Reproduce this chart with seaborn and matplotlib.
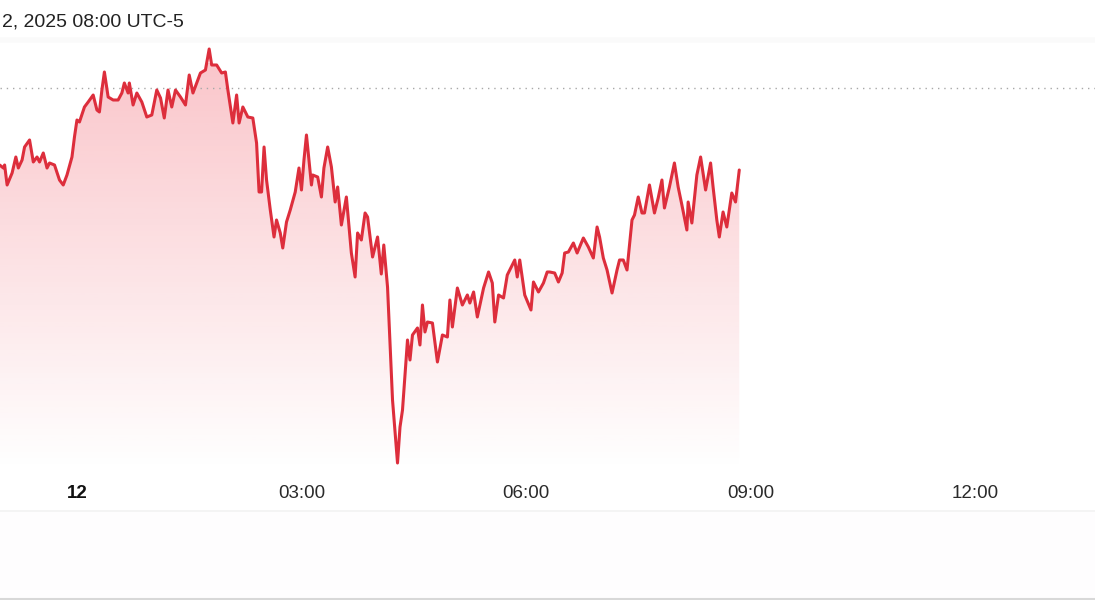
import numpy as np
import pandas as pd
import matplotlib.pyplot as plt
import seaborn as sns
from matplotlib.lines import Line2D

# minutes from midnight (local, UTC-5) and price
minutes = [-62, -59, -58, -56, -52, -49, -47, -44, -42, -38, -35, -32, -30, -27, -24, -22,
           -18, -14, -11, -8, -4, -2, 0, 2, 6, 9, 13, 16, 18, 20, 22, 25, 29, 33, 36, 38,
           41, 42, 45, 48, 52, 56, 60, 64, 67, 70, 73, 76, 79, 83, 87, 90,
           93, 99, 103, 106, 108, 112, 116, 119, 121, 125, 128, 130, 133, 137, 141, 144,
           146, 148, 150, 152, 155, 158, 160, 163, 165, 168, 171, 175, 178, 180, 182, 184,
           188, 189, 193, 196, 198, 201, 204, 207, 209, 212, 216, 220, 223, 225, 228, 231,
           233, 237, 241, 244, 246, 249,
           253, 257, 259, 261, 265, 267, 269, 273, 275, 277, 279, 281, 285, 289, 293, 297,
           299, 301, 305, 309, 313, 315, 318, 321, 326, 330, 333, 335, 338, 342, 345, 349,
           351, 353, 355, 359, 364, 366, 370, 374, 377,
           379, 383, 386, 389, 391, 394, 398, 401, 406, 410, 414, 417, 419, 422, 425, 429,
           433, 435, 438, 441, 445, 447, 450, 453, 455, 459, 463, 466, 469, 471, 475, 479,
           482, 485, 489, 490, 493, 497, 500, 504, 508, 510, 513, 515, 518, 521, 525, 528, 531]
price = [99.23, 99.20, 99.23, 99.03, 99.15, 99.31, 99.20, 99.28, 99.41, 99.48, 99.26, 99.31,
         99.26, 99.35, 99.20, 99.25, 99.23, 99.08, 99.03, 99.13, 99.31, 99.51, 99.68, 99.66,
         99.81, 99.86, 99.93, 99.78, 99.76, 99.98, 100.16, 99.91, 99.88, 99.88, 99.95, 100.05,
         99.95, 100.05, 99.83, 99.95, 99.86, 99.71, 99.73, 99.98, 99.90, 99.70, 99.98, 99.81,
         99.98, 99.91, 99.83, 100.13,
         99.95, 100.15, 100.18, 100.39, 100.23, 100.23, 100.15, 100.16, 99.98, 99.65, 99.93,
         99.65, 99.81, 99.71, 99.70, 99.45, 98.96, 98.96, 99.41, 99.08, 98.78, 98.51, 98.68,
         98.55, 98.40, 98.66, 98.78, 98.96, 99.20, 98.98, 99.28, 99.53, 99.03, 99.13, 99.11,
         98.91, 99.20, 99.41, 99.21, 98.86, 99.01, 98.63, 98.91, 98.35, 98.11, 98.55, 98.48,
         98.75, 98.71, 98.31, 98.51, 98.14, 98.43, 98.01,
         96.88, 96.25, 96.61, 96.78, 97.48, 97.28, 97.53, 97.60, 97.43, 97.83, 97.56, 97.66,
         97.65, 97.26, 97.53, 97.51, 97.88, 97.61, 98.00, 97.83, 97.93, 97.85, 97.96, 97.71,
         98.00, 98.16, 98.05, 97.66, 97.93, 97.90, 98.13, 98.23, 98.28, 98.11, 98.28, 97.93,
         97.78, 98.06, 97.96, 98.05, 98.16,
         98.16, 98.15, 98.06, 98.15, 98.35, 98.36, 98.45, 98.35, 98.50, 98.41, 98.30, 98.61,
         98.51, 98.30, 98.18, 97.95, 98.18, 98.28, 98.28, 98.18, 98.68, 98.73, 98.91, 98.75,
         98.75, 99.03, 98.75, 98.90, 99.08, 98.80, 99.01, 99.25, 99.01, 98.83, 98.58, 98.86,
         98.65, 99.13, 99.31, 98.98, 99.25, 99.01, 98.68, 98.51, 98.76, 98.61, 98.95, 98.86,
         99.18]
prev_close = 100.00

tick_pos = [0, 180, 360, 540, 720]
tick_labels = ["12", "03:00", "06:00", "09:00", "12:00"]
header = "2, 2025 08:00 UTC-5"

df = pd.DataFrame({"minutes": minutes, "price": price})

sns.set_theme(style="white")
plt.rcParams['font.family'] = ['Liberation Sans', 'DejaVu Sans']

red = "#dd2e3c"
fig = plt.figure(figsize=(10.95, 6), dpi=100)
ax = fig.add_axes([0, 1 - 470 / 600, 1, 427 / 600])

xmin, xmax = -61.7, 816.2
ymin, ymax = 96.18, 100.45

# gradient fill under the line
poly = ax.fill_between(df["minutes"], df["price"], ymin, color="none", lw=0)
grad = np.linspace(0.28, 0.0, 256).reshape(-1, 1)
rgba = np.zeros((256, 1, 4))
rgba[..., 0], rgba[..., 1], rgba[..., 2] = 0.93, 0.2, 0.27
rgba[..., 3] = grad
img = ax.imshow(rgba, extent=[xmin, xmax, ymin, 100.25], aspect="auto", origin="upper", zorder=1)
img.set_clip_path(poly.get_paths()[0], transform=ax.transData)

sns.lineplot(data=df, x="minutes", y="price", ax=ax, color=red, lw=2.2, zorder=3)
ax.axhline(prev_close, color="#a8a8a8", lw=1, linestyle=(0, (1, 3.5)), zorder=2)

ax.set_xlim(xmin, xmax)
ax.set_ylim(ymin, ymax)
ax.set_xlabel("")
ax.set_ylabel("")
ax.set_yticks([])
ax.set_xticks(tick_pos)
ax.set_xticklabels(tick_labels, fontsize=13.5, color="#2a2a2a")
ax.get_xticklabels()[0].set_fontweight("bold")
ax.get_xticklabels()[0].set_color("#111111")
ax.tick_params(axis="x", length=0, pad=11)
for s in ax.spines.values():
    s.set_visible(False)

fig.text(0.002, 1 - 22 / 600, header, fontsize=14, color="#222222", va="center", ha="left")

# faint bands / separators
fig.add_artist(Line2D([0, 1], [1 - 40 / 600] * 2, color="#fafafa", lw=4))
fig.add_artist(Line2D([0, 1], [1 - 511 / 600] * 2, color="#f2f2f2", lw=1.2))
fig.patches.append(plt.Rectangle((0, 0), 1, 1 - 512 / 600, transform=fig.transFigure,
                                 color="#fefdfe", zorder=0))
fig.add_artist(Line2D([0, 1], [0.002] * 2, color="#d8d8d8", lw=1.5))

fig.savefig("out.png", dpi=100)
